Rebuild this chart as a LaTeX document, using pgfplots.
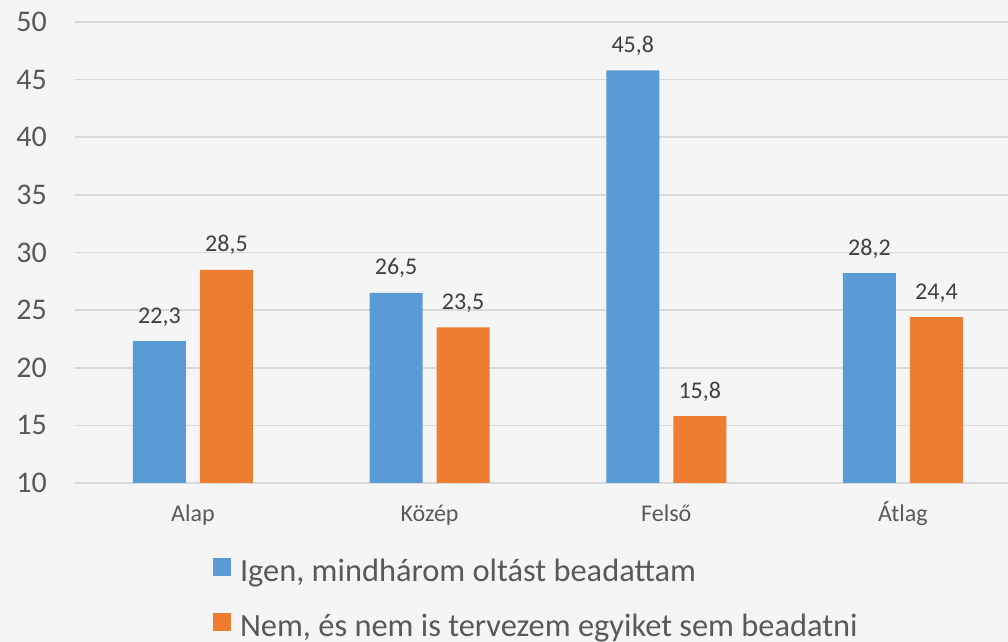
\documentclass[border=0pt]{standalone}
\usepackage{pgfplots}
\pgfplotsset{compat=1.18}
\usepackage{fontspec}
\setmainfont{Carlito}
\definecolor{cblue}{RGB}{91,155,213}
\definecolor{corange}{RGB}{237,125,49}
\definecolor{bgc}{RGB}{245,245,245}
\definecolor{gridc}{RGB}{217,217,217}
\definecolor{tickc}{RGB}{89,89,89}
\definecolor{labc}{RGB}{64,64,64}
\begin{document}
\begin{tikzpicture}
\fill[bgc] (0,0) rectangle (756pt,481.5pt);
\begin{axis}[
  at={(56.25pt,119.25pt)}, anchor=south west,
  scale only axis, width=699.75pt, height=345.75pt,
  xmin=-0.4985, xmax=3.444, ymin=10, ymax=50,
  ytick={10,15,...,50}, xtick={0,1,2,3},
  xticklabels={Alap,Közép,Felső,Átlag},
  axis line style={draw=none}, major tick length=0pt,
  ymajorgrids, grid style={gridc, line width=1.2pt},
  /pgf/number format/assume math mode=true,
  yticklabel style={font=\fontsize{22.5}{26}\selectfont, text=tickc, anchor=east, inner sep=0pt, xshift=-21pt},
  xticklabel style={font=\fontsize{18}{21}\selectfont, text=tickc, anchor=base, inner sep=0pt, yshift=-29pt},
  ybar, bar width=39.75pt,
  nodes near coords,
  every node near coord/.append style={font=\fontsize{18}{21}\selectfont, text=labc, anchor=base, inner sep=0pt, yshift=13.5pt,
     /pgf/number format/.cd, use comma, fixed, fixed zerofill, precision=1, assume math mode=true},
  legend style={at={(axis description cs:0,0)}, anchor=north west, xshift=103.5pt, yshift=-56.25pt,
     draw=none, fill=none, inner sep=0pt, outer sep=0pt,
     font=\fontsize{24.3}{28}\selectfont, text=tickc, row sep=18pt, column sep=6.75pt,
     nodes={inner sep=0pt, text height=14pt, text depth=5pt}},
  legend cell align=left,
  legend image code/.code={\fill (0pt,0pt) rectangle (13.5pt,13.5pt);},
]
\addplot+[bar shift=-25.125pt, fill=cblue, draw=none] coordinates {(0,22.3) (1,26.5) (2,45.8) (3,28.2)};
\addlegendentry{Igen, mindhárom oltást beadattam}
\addplot+[bar shift=25.125pt, fill=corange, draw=none] coordinates {(0,28.5) (1,23.5) (2,15.8) (3,24.4)};
\addlegendentry{Nem, és nem is tervezem egyiket sem beadatni}
\end{axis}
\pgfresetboundingbox
\useasboundingbox (0,0) rectangle (756pt,481.5pt);
\end{tikzpicture}
\end{document}
